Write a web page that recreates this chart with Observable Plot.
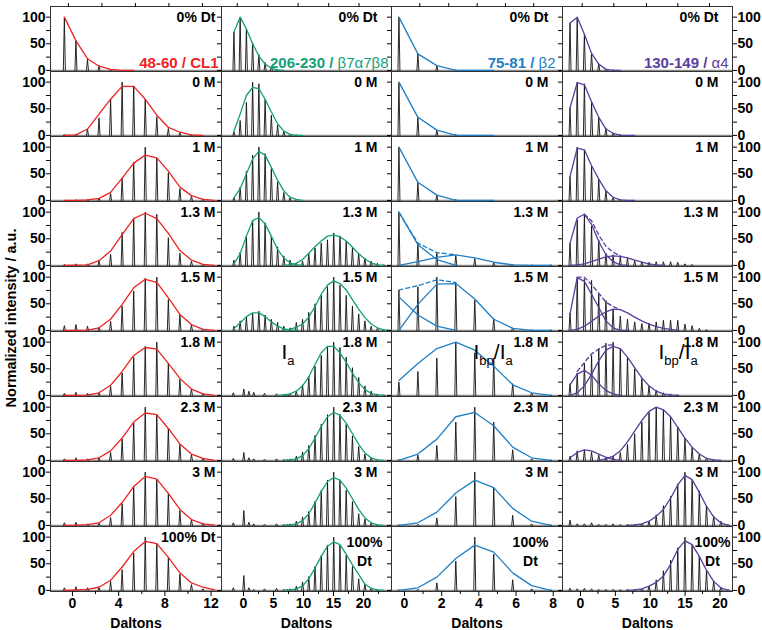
<!DOCTYPE html>
<html><head><meta charset="utf-8">
<script src="https://cdn.jsdelivr.net/npm/d3@7"></script>
<script src="https://cdn.jsdelivr.net/npm/@observablehq/plot@0.6"></script>
<style>
body{margin:0;background:#fff;}
#wrap{position:relative;width:762px;height:630px;overflow:hidden;font-family:"Liberation Sans",Arial,sans-serif;}
#ytitle{position:absolute;left:11px;top:318px;transform:translate(-50%,-50%) rotate(-90deg);font:bold 14.5px "Liberation Sans",Arial,sans-serif;white-space:nowrap;}
</style></head><body><div id="wrap"><div id="ytitle">Normalized intensity / a.u.</div></div>
<script>
const rows = ["0% Dt","0 M","1 M","1.3 M","1.5 M","1.8 M","2.3 M","3 M","100% Dt"];
const _ = null;

// ---------- column 1 : 48-60 / CL1 ----------
const cl1Pos = [-0.7,0.3,1.3,2.3,3.3,4.3,5.3,6.3,7.3,8.3,9.3,10.3,11.3,12.3];
const cl1Sticks = [
 [100,56,21,9,2,0,0,0,0,0,0,0,0,0],
 [1,2,12,33,68,100,93,68,35,13,5,1,0,0],
 [0,1,1,4,13,42,72,100,80,52,22,8,3,0],
 [2,3,3,9,21,62,89,100,96,52,23,8,2,0],
 [9,11,8,6,17,46,74,98,100,58,30,11,3,0],
 [4,6,4,5,17,42,72,92,100,60,30,12,4,0],
 [3,5,3,5,15,40,70,100,85,60,30,11,4,0],
 [5,6,3,5,15,41,73,100,86,60,28,11,4,0],
 [5,7,5,6,17,39,70,100,88,61,31,11,3,0]
];
const cl1Env = [
 [100,56,22,8,2,0,0],
 [0,1,12,40,68,92,92,68,38,15,6,1,0],
 [0,0,1,4,15,42,70,85,80,55,25,9,2,0],
 [0,0.5,1,9,27,58,88,98,88,60,28,10,2,0],
 [0,0,0.5,5,21,49,80,96,90,61,30,11,2,0],
 [0,0,0.5,5,19,45,75,90,87,60,32,12,3,0],
 [0,0,1,5,18,42,72,89,86,60,31,12,4,0],
 [0,0.5,1.5,5,19,43,73,92,87,60,30,11,3,0.5],
 [0,1,2,6,19,44,73,92,88,62,33,14,6,1]
];
const cl1Major = [0,4,8,12], cl1Minor = [2,6,10], cl1Top = [-0.35,2.55,5.45,8.35,11.25];

// ---------- column 2 : 206-230 / b7a7b8 ----------
const b7Pos = [-1.6,-0.56,0.48,1.52,2.56,3.6,4.64,5.68,6.72,7.76,8.8,9.84,10.88,11.92,12.96,14,15.04,16.08,17.12,18.16,19.2,20.24,21.28,22.32,23.36,24.4];
const b7Sticks = [
 [72,100,78,52,30,15,6,2,0,0,0,0,0,0,0,0,0,0,0,0,0,0,0,0,0,0],
 [7,28,62,100,97,68,38,19,8,3,1,0,0,0,0,0,0,0,0,0,0,0,0,0,0,0],
 [5,25,55,85,100,88,60,35,15,5,2,0,0,0,0,0,0,0,0,0,0,0,0,0,0,0],
 [10,25,55,85,100,80,55,35,18,10,5,8,23,33,42,48,61,55,45,33,23,14,8,4,1,0],
 [8,18,25,32,36,29,21,15,8,5,15,21,34,50,66,82,100,85,66,46,31,18,8,4,1,0],
 [0,0,0,0,0,0,0,0,2,3,8,20,36,55,75,92,100,90,72,52,34,18,8,3,1,0],
 [0,0,0,0,0,0,0,0,2,3,8,16,28,47,68,86,100,86,68,46,26,12,5,2,0,0],
 [0,0,0,0,0,0,0,0,2,3,8,16,26,45,66,85,100,85,66,45,22,12,5,2,0,0],
 [0,0,0,0,0,0,0,0,2,3,8,16,26,45,66,85,100,85,66,45,22,12,5,2,0,0]
];
const b7NoisePos = [-1.7,0.05,0.9,1.7,3.5,5.5,7.3];
const b7Noise = [
 [0,0,0,0,0,0,0],[0,0,0,0,0,0,0],[0,0,0,0,0,0,0],[0,0,0,0,0,0,0],[0,0,0,0,0,0,0],
 [5,12,8,6,4,3,2],
 [4,15,5,3,2,3,2],
 [5,28,6,3,2,3,2],
 [5,28,5,2,3,4,2]
];
const b7EnvA = [
 [72,100,78,50,27,12,4,1,0],
 [8,40,75,90,88,68,44,22,8,2,0,0],
 [5,22,50,78,92,85,62,38,18,6,2,0],
 [3,22,55,84,90,78,55,30,14,5,1,0],
 [3,14,26,33,33,26,16,8,3,1,0],
 _,_,_,_
];
const b7EnvB = [
 _,_,_,
 [_,_,_,_,_,_,_,_,0,1,4,11,23,35,46,55,57,54,46,34,22,12,5,1,0],
 [_,_,_,_,_,_,_,_,0,2,6,12,25,45,68,85,93,88,76,58,40,24,12,5,1,0],
 [_,_,_,_,_,_,_,0,1,3,8,18,35,58,80,92,92,80,62,42,24,11,4,1,0],
 [_,_,_,_,_,_,_,_,0,1,3,9,22,42,64,82,90,85,70,50,30,14,5,1,0],
 [_,_,_,_,_,_,_,_,0,1,3,9,22,42,64,82,90,85,70,50,30,14,5,1,0],
 [_,_,_,_,_,_,_,_,0,1,3,8,22,42,64,83,91,86,68,48,30,12,4,1,0]
];
const b7Major = [0,5,10,15,20], b7Minor = [2.5,7.5,12.5,17.5,22.5], b7Top = [-1.05,4.05,9.1,14.2,19.25];

// ---------- column 3 : 75-81 / b2 ----------
const b2Pos = [-0.3,0.72,1.74,2.76,3.78,4.8,5.82,6.84,7.86];
const b2Sticks = [
 [100,31,9,1,0,0,0,0,0],
 [100,34,10,2,0,0,0,0,0],
 [100,34,10,2,0,0,0,0,0],
 [100,42,25,19,13,5,2,1,1],
 [76,82,100,88,57,22,5,1,1],
 [25,45,70,100,80,70,22,5,1],
 [2,10,28,72,100,72,20,3,1],
 [1,2,14,54,100,71,19,3,1],
 [1,2,14,55,100,68,20,3,1]
];
const b2EnvA = [
 [100,31,9,0,0,0],
 [100,34,10,0,0,0],
 [100,34,10,0,0,0],
 [100,39,11,0],
 [63,29,8,0],
 [28,60,88,100,85,55,20,5,0],
 [0,12,40,82,90,65,25,5,0],
 [0,5,25,61,85,71,32,8,0],
 [0,5,25,60,85,72,33,9,0]
];
const b2EnvB = [_,_,_,[0,7,15,20,14,6,1,0,0],[0,49,87,88,59,21,4,0,0],_,_,_,_];
const b2Dash = [_,_,_,[100,42,24,20],[76,84,95,90],_,_,_,_];
const b2Major = [0,2,4,6,8], b2Minor = [1,3,5,7], b2Top = [0.82,2.38,3.91,5.43,6.95];

// ---------- column 4 : 130-149 / a4 ----------
const a4Pos = [-1.5,-0.47,0.56,1.59,2.62,3.65,4.68,5.71,6.74,7.77,8.8,9.83,10.86,11.89,12.92,13.95,14.98,16.01,17.04,18.07,19.1,20.13,21.16];
const a4Sticks = [
 [89,100,68,31,12,3,1,0,0,0,0,0,0,0,0,0,0,0,0,0,0,0,0],
 [52,100,97,62,34,14,5,1,0,0,0,0,0,0,0,0,0,0,0,0,0,0,0],
 [45,100,95,65,40,18,6,2,0,0,0,0,0,0,0,0,0,0,0,0,0,0,0],
 [42,86,96,74,48,23,20,17,14,9,7,6,7,7,7,6,3,2,0,0,0,0,0],
 [33,99,97,94,68,56,40,27,21,16,13,14,16,19,19,19,12,9,4,1,0,0,0],
 [22,42,60,75,88,98,100,88,72,50,32,18,10,5,3,1,0,0,0,0,0,0,0],
 [8,18,20,16,10,6,8,15,30,50,72,90,100,95,82,62,42,25,12,5,2,0,0],
 [10,3,3,5,2,2,3,2,2,2,3,8,20,37,55,78,100,85,65,38,18,8,2],
 [4,3,4,3,2,2,2,1,2,2,3,8,20,37,57,80,100,85,65,38,18,6,2]
];
const a4EnvA = [
 [89,100,68,32,12,2,0,0],
 [52,99,95,63,34,12,4,0.5,0,0],
 [45,98,95,65,40,18,6,1,0,0],
 [42,89,96,77,45,20,7,1,0],
 [31,99,92,68,43,18,5,0,0],
 [20,40,47,38,22,9,3,0],
 [5,15,20,18,12,6,2,0],
 [_,_,_,_,_,_,_,_,0,1,3,8,17,30,51,76,94,86,62,36,16,5,0],
 [_,_,_,_,_,_,_,_,0,1,3,8,15,27,49,77,93,86,64,38,17,5,0]
];
const a4EnvB = [
 _,_,_,
 [0,1,3,7,12,16,18,17,14,10,6,3,1,0],
 [0,2,8,17,27,35,40,39,33,25,18,12,7,4,2,0],
 [0,5,18,40,65,85,92,88,72,52,33,18,8,3,1,0],
 [_,_,_,_,0,3,8,18,35,55,75,92,100,95,82,62,42,25,12,4,1,0],
 _,_
];
const a4Dash = [_,_,_,[_,_,96,84,57,36,25,18],[_,100,100,86,70,53,45,39],[_,45,62,78,87,94,95],_,_,_];
const a4Major = [0,5,10,15,20], a4Minor = [2.5,7.5,12.5,17.5], a4Top = [0.24,4.78,9.47,13.96,18.5];

const yTicks = [0,25,50,75,100];
const yLabeled = [0,50,100];

function postProcess(svg) {
  d3.select(svg).selectAll("text").each(function () {
    const t = this.textContent;
    const sel = d3.select(this);
    if (t.includes("_")) {
      const fs = 21;
      const parts = t.split(/(_[a-z]+)/).filter(s => s);
      sel.text(null);
      let down = false;
      for (const p of parts) {
        if (p.startsWith("_")) {
          sel.append("tspan").attr("font-size", fs * 0.62).attr("dy", fs * 0.28).text(p.slice(1));
          down = true;
        } else {
          sel.append("tspan").attr("dy", down ? -fs * 0.28 : 0).text(p);
          down = false;
        }
      }
    } else if (/ \/ /.test(t) && /[α-ω]/.test(t)) {
      const k = t.indexOf("/ ") + 2;
      sel.text(null);
      sel.append("tspan").text(t.slice(0, k));
      sel.append("tspan").attr("font-weight", "normal").text(t.slice(k));
    }
  });
}

function drawColumn(c) {
  const pxPerUnit = c.frameW / (c.xDomain[1] - c.xDomain[0]);
  const hw = 1.0 / pxPerUnit;
  const stickPts = [];
  function addSticks(posArr, table) {
    table.forEach((vals, r) => {
      if (!vals) return;
      vals.forEach((h, i) => {
        if (!h) return;
        const id = stickPts.length;
        stickPts.push({row: rows[r], id, x: posArr[i] - hw, y: 0},
                      {row: rows[r], id, x: posArr[i], y: h},
                      {row: rows[r], id, x: posArr[i] + hw, y: 0});
      });
    });
  }
  addSticks(c.pos, c.sticks);
  if (c.noise) addSticks(c.noisePos, c.noise);
  const envMarks = c.envs.map(e => {
    const pts = [];
    e.table.forEach((vals, r) => {
      if (!vals) return;
      vals.forEach((v, i) => pts.push({row: rows[r], x: c.pos[i], y: v}));
    });
    return Plot.line(pts, {x: "x", y: "y", fy: "row", stroke: c.color, strokeWidth: 1.3,
      strokeDasharray: e.dash ? "4,3" : null});
  });
  const marks = [
    Plot.ruleY([0], {stroke: "#8a8a8a", strokeWidth: 1.4}),
    Plot.line(stickPts, {x: "x", y: "y", z: "id", fy: "row", stroke: "#111", strokeWidth: 0.9}),
    ...envMarks,
    Plot.frame({stroke: "#333", strokeWidth: 1}),
    Plot.axisY({anchor: "left", ticks: yTicks, tickSize: 4, tickPadding: 1, label: null,
      tickFormat: c.yLabelsLeft ? (d => yLabeled.includes(d) ? String(d) : "") : (() => "")}),
    Plot.axisX({anchor: "bottom", facetAnchor: "bottom", ticks: c.major, tickSize: 5, tickPadding: 2,
      label: "Daltons", labelAnchor: "center", labelOffset: 36, labelArrow: "none"}),
    Plot.axisX({anchor: "bottom", facetAnchor: "bottom", ticks: c.minor, tickSize: 3, tickFormat: () => "", label: null}),
    Plot.axisX({anchor: "top", facetAnchor: "top", ticks: c.top, tickSize: 4, tickFormat: () => "", label: null})
  ];
  if (c.yLabelsRight) marks.push(Plot.axisY({anchor: "right", ticks: yTicks, tickSize: 4, tickPadding: 1, label: null,
      tickFormat: d => yLabeled.includes(d) ? String(d) : ""}));
  const labelRows = rows.map(r => ({row: r, label: r})).filter((d, i) => !(c.multiLast && i === 8));
  marks.push(Plot.text(labelRows, {fy: "row", text: "label", frameAnchor: "top-right", textAnchor: "end", lineAnchor: "top",
    dx: -c.rowInset, dy: 6, fontSize: 14, fontWeight: "bold", fill: "#000"}));
  if (c.multiLast) marks.push(Plot.text([{row: rows[8], label: "100%\nDt"}], {fy: "row", text: "label", frameAnchor: "top-right",
    textAnchor: "middle", lineAnchor: "top", dx: -c.lastDx, dy: 7, lineHeight: 1.35, fontSize: 14, fontWeight: "bold", fill: "#000"}));
  marks.push(Plot.text([{row: rows[0], label: c.title}], {fy: "row", text: "label", frameAnchor: "bottom-right", textAnchor: "end",
    lineAnchor: "bottom", dx: -c.titleInset, dy: -4, fill: c.color, fontSize: 15, fontWeight: "bold"}));
  if (c.ia) marks.push(Plot.text([{row: rows[5], label: c.ia}], {fy: "row", text: "label", frameAnchor: "top-left",
    textAnchor: "start", lineAnchor: "top", dx: c.iaDx, dy: 13, fontSize: 21, fontWeight: "normal", fill: "#000"}));

  const svg = Plot.plot({
    width: c.mLeft + c.frameW + c.mRight,
    height: 630,
    marginTop: 4, marginBottom: 37, marginLeft: c.mLeft, marginRight: c.mRight,
    x: {domain: c.xDomain},
    y: {domain: [-2, 120]},
    fy: {domain: rows, padding: 0, axis: null},
    style: {fontFamily: "'Liberation Sans', Arial, sans-serif", fontSize: "14px", fontWeight: "bold",
      background: "transparent", overflow: "visible", position: "absolute", left: (c.frameLeft - c.mLeft) + "px", top: "0px", color: "#000"},
    marks
  });
  document.getElementById("wrap").appendChild(svg);
  postProcess(svg);
}

drawColumn({pos: cl1Pos, sticks: cl1Sticks, envs: [{table: cl1Env}], color: "#ee2222",
  xDomain: [-1.9, 12.9], frameLeft: 50, frameW: 171, mLeft: 50, mRight: 0,
  major: cl1Major, minor: cl1Minor, top: cl1Top, yLabelsLeft: true,
  rowInset: 6, title: "48-60 / CL1", titleInset: 3});
drawColumn({pos: b7Pos, sticks: b7Sticks, noisePos: b7NoisePos, noise: b7Noise,
  envs: [{table: b7EnvA}, {table: b7EnvB}], color: "#12a078",
  xDomain: [-3.67, 24.67], frameLeft: 221, frameW: 170, mLeft: 0, mRight: 0,
  major: b7Major, minor: b7Minor, top: b7Top, multiLast: true, lastDx: 27,
  rowInset: 14, title: "206-230 / β7α7β8", titleInset: 3, ia: "I_a", iaDx: 60});
drawColumn({pos: b2Pos, sticks: b2Sticks, envs: [{table: b2EnvA}, {table: b2EnvB}, {table: b2Dash, dash: true}], color: "#1e7fc4",
  xDomain: [-0.7, 8.5], frameLeft: 391, frameW: 171, mLeft: 0, mRight: 0,
  major: b2Major, minor: b2Minor, top: b2Top, multiLast: true, lastDx: 32,
  rowInset: 14, title: "75-81 / β2", titleInset: 7, ia: "I_bp/I_a", iaDx: 82});
drawColumn({pos: a4Pos, sticks: a4Sticks, envs: [{table: a4EnvA}, {table: a4EnvB}, {table: a4Dash, dash: true}], color: "#5a3d9c",
  xDomain: [-2.58, 21.8], frameLeft: 562, frameW: 170, mLeft: 0, mRight: 30,
  major: a4Major, minor: a4Minor, top: a4Top, yLabelsRight: true, multiLast: true, lastDx: 20,
  rowInset: 14, title: "130-149 / α4", titleInset: 4, ia: "I_bp/I_a", iaDx: 96});
</script></body></html>
